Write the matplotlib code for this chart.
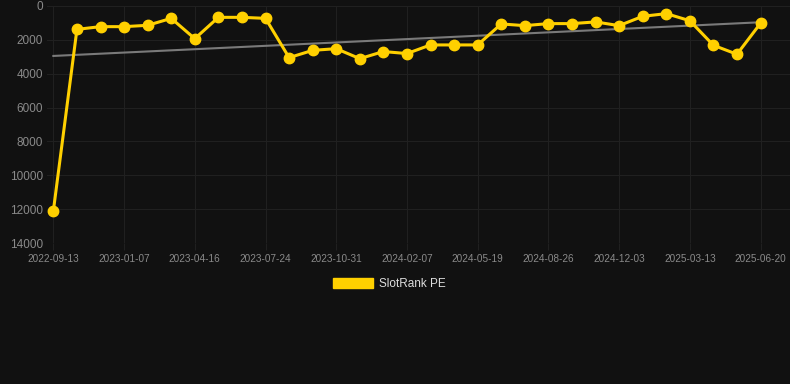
import matplotlib.pyplot as plt
from matplotlib.patches import Patch

# SlotRank PE history (rank, lower is better) - one point per snapshot
ranks = [12100, 1380, 1220, 1220, 1140, 730, 1930, 670, 670, 730,
         3050, 2620, 2520, 3110, 2690, 2810, 2300, 2300, 2300, 1060,
         1160, 1040, 1040, 940, 1160, 610, 450, 870, 2320, 2850, 1020]
tick_labels = ['2022-09-13', '2023-01-07', '2023-04-16', '2023-07-24', '2023-10-31',
               '2024-02-07', '2024-05-19', '2024-08-26', '2024-12-03', '2025-03-13',
               '2025-06-20']
trend_ends = [2950, 960]
y_ticks = [0, 2000, 4000, 6000, 8000, 10000, 12000, 14000]

BG = '#111111'
GRID = '#202020'
YELLOW = '#FFD000'

plt.rcParams['font.family'] = ['Liberation Sans', 'DejaVu Sans']

fig = plt.figure(figsize=(7.9, 3.84), dpi=100, facecolor=BG)
ax = fig.add_axes([47 / 790, 1 - 243 / 384, 1 - 47 / 790, (243 - 6) / 384])
ax.set_facecolor(BG)

x = list(range(len(ranks)))
ax.plot([x[0], x[-1]], trend_ends, color='#7a7a7a', linewidth=1.5, zorder=2)
ax.plot(x, ranks, color=YELLOW, linewidth=2.2, marker='o', markersize=7.5, zorder=3)

ax.set_xlim(-0.27, 31.25)
ax.set_ylim(14000, 0)
ax.set_yticks(y_ticks)
ax.set_xticks(x[::3])
ax.set_xticklabels(tick_labels)

ax.grid(True, color=GRID, linewidth=0.8)
for s in ax.spines.values():
    s.set_visible(False)
ax.tick_params(axis='y', length=0, pad=3, labelsize=8.5, labelcolor='#8a8a8a')
ax.tick_params(axis='x', length=5, color=GRID, pad=3, labelsize=7.2, labelcolor='#8a8a8a')

fig.legend(handles=[Patch(color=YELLOW, label='SlotRank PE')], loc='center',
           bbox_to_anchor=(389.5 / 790, 1 - 284 / 384), frameon=False, fontsize=8.5,
           labelcolor='#dddddd', handlelength=3.4, handleheight=0.9, handletextpad=0.5)

fig.savefig('out.png', dpi=100, facecolor=BG)
